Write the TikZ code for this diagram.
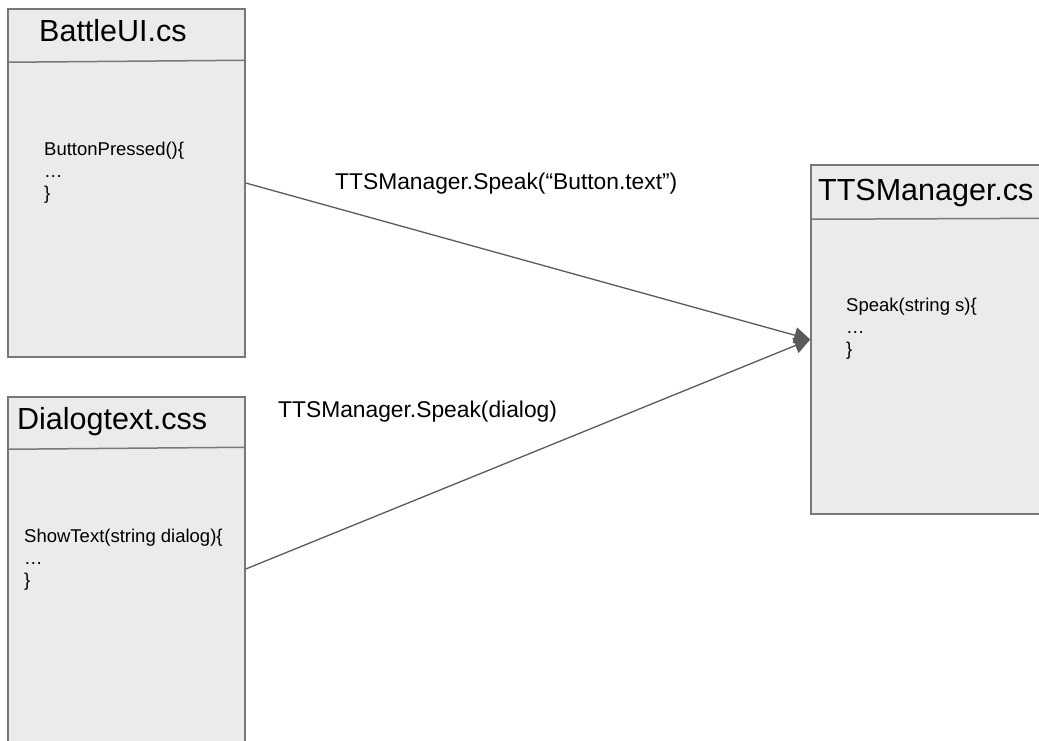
\documentclass[tikz,border=0pt]{standalone}
\usepackage{fontspec}
\setmainfont{Liberation Sans}
\usepackage{xcolor}
\usetikzlibrary{positioning,calc,arrows.meta}

\definecolor{boxfill}{HTML}{EBEBEB}
\definecolor{boxline}{HTML}{787878}
\definecolor{arrowline}{HTML}{5A5A5A}

\begin{document}
\begin{tikzpicture}[x=1pt,y=-1pt,
    classbox/.style={draw=boxline, fill=boxfill, line width=1.5pt, inner sep=0pt},
    divider/.style={draw=boxline, line width=1.5pt},
    titletext/.style={anchor=base west, inner sep=0pt, font=\fontsize{30.5}{36}\selectfont},
    bodytext/.style={anchor=base west, inner sep=0pt, align=left, font=\fontsize{18.5}{22}\selectfont},
    calltext/.style={anchor=base west, inner sep=0pt, font=\fontsize{22.8}{27}\selectfont},
    call/.style={draw=arrowline, line width=1.3pt, -{Triangle[length=16pt,width=16pt]}}]
    \useasboundingbox (0,0) rectangle (1039,740);
    % class boxes
    \node[classbox, minimum width=237pt, minimum height=348pt] (battle) at (126.5,183) {};
    \node[classbox, minimum width=237pt, minimum height=363pt] (dialog) at (126.5,578.5) {};
    \node[classbox, minimum width=249pt, minimum height=349pt] (tts) at (935.5,339.5) {};
    \draw[divider] ([yshift=-54pt]battle.north west) -- ([yshift=-52pt]battle.north east);
    \draw[divider] ([yshift=-53pt]dialog.north west) -- ([yshift=-51pt]dialog.north east);
    \draw[divider] ([yshift=-55pt]tts.north west) -- ([yshift=-54pt]tts.north east);
    % titles and methods (base = last line)
    \node[titletext] (battletitle) at (39,41) {BattleUI.cs};
    \node[titletext] (dialogtitle) at (17,429) {Dialogtext.css};
    \node[titletext] (ttstitle) at (818,200) {TTSManager.cs};
    \node[bodytext] (battlebody) at (44,199) {ButtonPressed()\{\\\dots\\\}};
    \node[bodytext] (dialogbody) at (24,586) {ShowText(string dialog)\{\\\dots\\\}};
    \node[bodytext] (ttsbody) at (846,355) {Speak(string s)\{\\\dots\\\}};
    % calls
    \coordinate (dialogout) at ([yshift=9.5pt]dialog.east);
    \draw[call] (battle.east) -- (tts.west);
    \draw[call] (dialogout) -- (tts.west);
    \node[calltext] (call1) at (335,189) {TTSManager.Speak(“Button.text”)};
    \node[calltext] (call2) at (278,417) {TTSManager.Speak(dialog)};
\end{tikzpicture}
\end{document}
